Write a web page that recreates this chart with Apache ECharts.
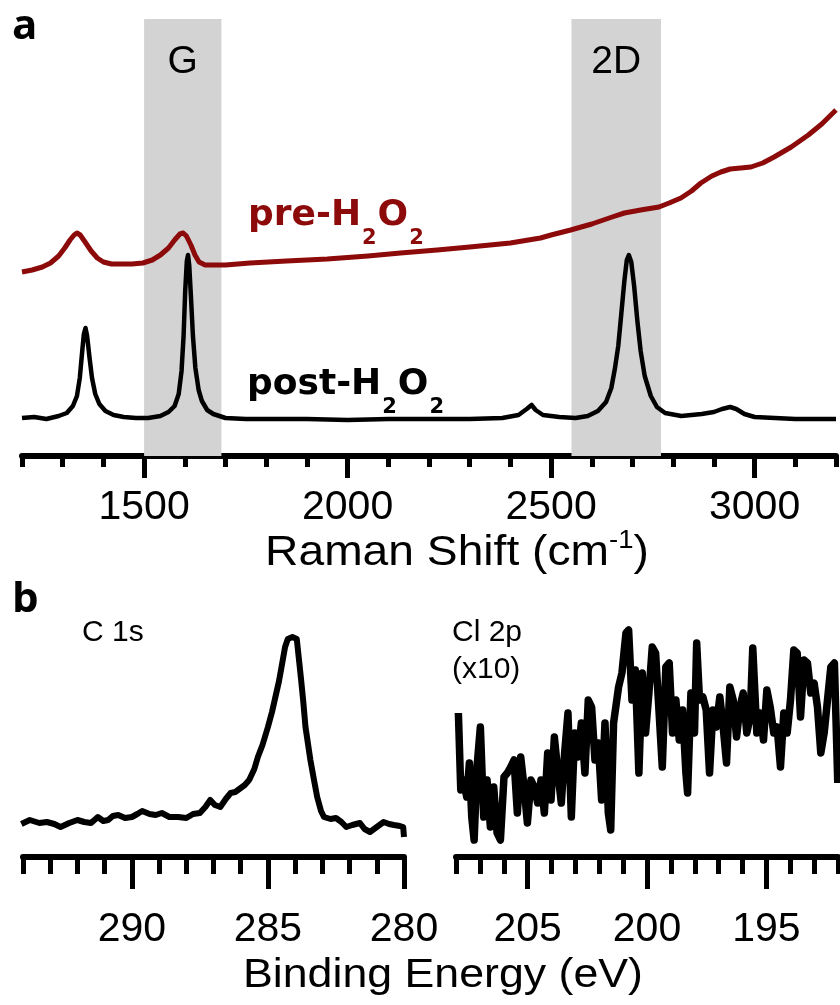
<!DOCTYPE html>
<html>
<head>
<meta charset="utf-8">
<script src="https://cdn.jsdelivr.net/npm/echarts@6/dist/echarts.min.js"></script>
<style>
  html, body { margin: 0; padding: 0; background: #fff; }
  #chart { width: 840px; height: 1005px; }
</style>
</head>
<body>
<div id="chart"></div>
<script>
// Raman spectra (cm-1, a.u.)
const preH2O2 = [
  [1200, 184], [1225, 186], [1250, 189], [1270, 193], [1290, 200], [1305, 208], [1318, 216],
  [1328, 221], [1335, 223], [1343, 221], [1355, 214], [1370, 205], [1385, 198], [1400, 194],
  [1420, 192], [1445, 192], [1470, 192], [1497, 193], [1520, 196], [1540, 201], [1560, 208],
  [1575, 216], [1588, 222], [1596, 223], [1604, 220], [1615, 211], [1625, 201], [1635, 194],
  [1650, 191], [1700, 191], [1760, 193], [1850, 195], [1950, 197], [2050, 200], [2130, 203],
  [2220, 206], [2300, 209], [2400, 213], [2474, 218], [2500, 221], [2548, 226], [2600, 232],
  [2650, 239], [2680, 243], [2720, 246], [2765, 249], [2790, 253], [2819, 258], [2845, 265],
  [2868, 273], [2895, 280], [2917, 284], [2940, 287], [2966, 288], [2991, 289], [3020, 293],
  [3048, 299], [3090, 309], [3132, 321], [3165, 332], [3200, 346]
]
const postH2O2 = [
  [1200, 38], [1230, 39], [1260, 37], [1290, 40], [1310, 43], [1325, 50], [1335, 60],
  [1342, 78], [1348, 105], [1352, 122], [1356, 128], [1360, 120], [1366, 98], [1372, 78],
  [1380, 62], [1390, 52], [1405, 45], [1425, 41], [1450, 39], [1480, 38], [1510, 38],
  [1540, 40], [1560, 44], [1575, 50], [1585, 62], [1592, 85], [1597, 120], [1601, 165],
  [1605, 195], [1608, 201], [1611, 190], [1615, 160], [1620, 120], [1626, 88], [1634, 66],
  [1642, 55], [1655, 46], [1670, 42], [1700, 38], [1750, 37], [1800, 37], [1900, 37],
  [2000, 36], [2100, 37], [2200, 37], [2300, 37], [2380, 38], [2420, 41], [2440, 47],
  [2452, 51], [2462, 46], [2480, 41], [2520, 39], [2560, 38], [2590, 40], [2615, 45],
  [2635, 54], [2648, 68], [2657, 88], [2665, 110], [2672, 140], [2680, 175], [2686, 196],
  [2691, 201], [2697, 194], [2704, 170], [2712, 135], [2720, 105], [2730, 80], [2745, 60],
  [2760, 49], [2780, 43], [2820, 40], [2870, 42], [2900, 44], [2920, 47], [2940, 49],
  [2955, 47], [2975, 42], [3000, 39], [3050, 38], [3100, 37], [3150, 37], [3200, 37]
]
const ramanBands = [['G', 1500, 1690], ['2D', 2550, 2770]]
const ramanTicks = [1500, 2000, 2500, 3000]

// XPS spectra (eV, counts a.u.)
const c1s = [
  [294.06, 33], [293.75, 37], [293.4, 34], [293.12, 35], [292.85, 33], [292.62, 30], [292.3, 34],
  [292.0, 37], [291.75, 35], [291.5, 34], [291.25, 40], [291.05, 36], [290.87, 37], [290.7, 41],
  [290.5, 42], [290.25, 39], [290.0, 40], [289.8, 43], [289.62, 46], [289.35, 43], [289.12, 42],
  [288.9, 44], [288.62, 40], [288.3, 40], [288.0, 39], [287.75, 43], [287.5, 44], [287.3, 50],
  [287.12, 57], [286.95, 52], [286.75, 50], [286.55, 58], [286.37, 64], [286.2, 65], [286.0, 69],
  [285.85, 72], [285.69, 77], [285.5, 88], [285.37, 100], [285.2, 112], [285.0, 130], [284.85, 145],
  [284.75, 157], [284.6, 175], [284.5, 190], [284.37, 210], [284.27, 218], [284.1, 220], [283.94, 218],
  [283.85, 195], [283.78, 177], [283.7, 155], [283.62, 130], [283.5, 108], [283.44, 97], [283.3, 76],
  [283.19, 60], [283.05, 46], [282.94, 40], [282.7, 38], [282.5, 39], [282.3, 35], [282.12, 30],
  [281.9, 32], [281.62, 34], [281.45, 28], [281.25, 25], [281.0, 30], [280.75, 35], [280.55, 33],
  [280.37, 32], [280.15, 31], [280.03, 30], [280.0, 20]
]
const cl2p = [
  [207.9, 144], [207.8, 67], [207.69, 77], [207.55, 60], [207.44, 94], [207.34, 40], [207.24, 17],
  [207.12, 90], [206.98, 130], [206.84, 40], [206.7, 77], [206.56, 30], [206.42, 70], [206.28, 24],
  [206.14, 17], [205.99, 80], [205.85, 84], [205.71, 90], [205.57, 97], [205.43, 44], [205.29, 100],
  [205.15, 70], [205.01, 34], [204.86, 77], [204.72, 70], [204.58, 54], [204.44, 77], [204.3, 44],
  [204.16, 104], [204.02, 57], [203.88, 120], [203.73, 84], [203.59, 54], [203.45, 104], [203.31, 144],
  [203.17, 40], [203.03, 124], [202.89, 100], [202.75, 134], [202.6, 84], [202.46, 157], [202.32, 150],
  [202.18, 97], [202.04, 114], [201.9, 57], [201.76, 134], [201.62, 44], [201.52, 27], [201.4, 134],
  [201.19, 170], [201.05, 184], [200.88, 224], [200.77, 227], [200.63, 157], [200.49, 187], [200.34, 84],
  [200.2, 184], [200.06, 124], [199.92, 164], [199.78, 210], [199.64, 204], [199.5, 147], [199.36, 90],
  [199.21, 190], [199.07, 194], [198.93, 124], [198.79, 157], [198.65, 117], [198.51, 147], [198.37, 84],
  [198.3, 64], [198.16, 164], [198.01, 124], [197.92, 214], [197.8, 157], [197.66, 160], [197.52, 147],
  [197.38, 84], [197.24, 147], [197.1, 130], [196.95, 160], [196.81, 130], [196.67, 94], [196.53, 170],
  [196.39, 157], [196.25, 120], [196.11, 150], [195.97, 164], [195.82, 124], [195.68, 140], [195.57, 209],
  [195.4, 124], [195.26, 144], [195.12, 117], [194.98, 167], [194.84, 150], [194.69, 124], [194.55, 130],
  [194.41, 90], [194.27, 144], [194.13, 124], [193.99, 157], [193.85, 207], [193.71, 204], [193.57, 140],
  [193.42, 197], [193.28, 194], [193.14, 164], [193.0, 174], [192.86, 150], [192.72, 104], [192.58, 124],
  [192.44, 157], [192.3, 190], [192.15, 194], [192.01, 74]
]
const c1sTicks = [280, 285, 290]
const cl2pTicks = [195, 200, 205]

const darkRed = '#8c0a0a'
const labelFont = 'Liberation Sans, Arial, sans-serif'

const myChart = echarts.init(document.getElementById('chart'))

// two axes per grid: one for the small ticks + line, one for long ticks + labels
function axisPair(gridIndex, min, max, step, majors, inverse, minorLen, majorLen, margin) {
  const base = {
    type: 'value',
    gridIndex: gridIndex,
    min: min,
    max: max,
    interval: step,
    inverse: inverse,
    position: 'bottom',
    splitLine: { show: false }
  }
  return [
    Object.assign({}, base, {
      axisLine: { show: true, onZero: false, lineStyle: { color: '#000', width: 6 } },
      axisTick: { show: true, length: minorLen, lineStyle: { color: '#000', width: 5 } },
      axisLabel: { show: false }
    }),
    Object.assign({}, base, {
      axisLine: { show: false, onZero: false },
      axisTick: { show: true, length: majorLen, customValues: majors, lineStyle: { color: '#000', width: 5 } },
      axisLabel: {
        show: true, customValues: majors, margin: margin,
        formatter: v => String(v),
        fontSize: 41, fontFamily: labelFont, color: '#000'
      }
    })
  ]
}

function hiddenY(gridIndex, max) {
  return { type: 'value', gridIndex: gridIndex, min: 0, max: max, show: false, splitLine: { show: false } }
}

function lineSeries(data, xi, yi, color, width) {
  return {
    type: 'line',
    data: data,
    xAxisIndex: xi,
    yAxisIndex: yi,
    showSymbol: false,
    smooth: false,
    lineStyle: { color: color, width: width, join: 'round' },
    z: 3
  }
}

const subRich = function (color) {
  return {
    m: { fontSize: 36, fontWeight: 'bold', fontFamily: 'DejaVu Sans', lineHeight: 36, verticalAlign: 'top', fill: color },
    s: { fontSize: 21, fontWeight: 'bold', fontFamily: 'DejaVu Sans', lineHeight: 21, padding: [30, 1, 0, 1], verticalAlign: 'top', fill: color }
  }
}

const option = {
  animation: false,
  backgroundColor: '#fff',
  grid: [
    { left: 22, top: 19, width: 814, height: 437 },
    { left: 23, top: 620, width: 381, height: 237 },
    { left: 456, top: 620, width: 382, height: 237 }
  ],
  xAxis: [].concat(
    axisPair(0, 1200, 3200, 100, ramanTicks, false, 11, 22, 31),
    axisPair(1, 280, 294, 1, c1sTicks, true, 17, 32, 52),
    axisPair(2, 192, 208, 1, cl2pTicks, true, 17, 32, 52)
  ),
  yAxis: [hiddenY(0, 437), hiddenY(1, 237), hiddenY(2, 237)],
  series: [
    {
      type: 'line',
      data: [],
      xAxisIndex: 0,
      yAxisIndex: 0,
      z: 1,
      markArea: {
        silent: true,
        itemStyle: { color: '#d3d3d3' },
        label: {
          show: true, position: 'insideTop', distance: 24,
          fontSize: 39, fontFamily: labelFont, color: '#000'
        },
        data: ramanBands.map(b => [{ name: b[0], xAxis: b[1] }, { xAxis: b[2] }])
      }
    },
    lineSeries(preH2O2, 0, 0, darkRed, 5),
    lineSeries(postH2O2, 0, 0, '#000', 4.5),
    lineSeries(c1s, 2, 1, '#000', 6),
    lineSeries(cl2p, 4, 2, '#000', 7.5)
  ],
  graphic: [
    { type: 'text', x: 12, y: 6, style: { text: 'a', font: 'bold 42px "Open Sans"', fill: '#000' } },
    { type: 'text', x: 12, y: 579, style: { text: 'b', font: 'bold 42px "Open Sans"', fill: '#000' } },
    {
      type: 'text', x: 248, y: 198,
      style: { text: '{m|pre-H}{s|2}{m|O}{s|2}', rich: subRich(darkRed) }
    },
    {
      type: 'text', x: 247, y: 367,
      style: { text: '{m|post-H}{s|2}{m|O}{s|2}', rich: subRich('#000') }
    },
    {
      type: 'text', x: 457, y: 553, scaleX: 1.1,
      style: {
        text: '{m|Raman Shift (cm}{u|-1}{m|)}',
        align: 'center', verticalAlign: 'middle',
        rich: {
          m: { fontSize: 42, fontFamily: labelFont, lineHeight: 48, fill: '#000' },
          u: { fontSize: 25, fontFamily: labelFont, lineHeight: 25, verticalAlign: 'top', fill: '#000' }
        }
      }
    },
    {
      type: 'text', x: 443, y: 976, scaleX: 1.09,
      style: { text: 'Binding Energy (eV)', font: '41px ' + labelFont, fill: '#000', align: 'center', verticalAlign: 'middle' }
    },
    { type: 'text', x: 82, y: 633, style: { text: 'C 1s', font: '30px ' + labelFont, fill: '#000', verticalAlign: 'middle' } },
    { type: 'text', x: 452, y: 633, style: { text: 'Cl 2p', font: '30px ' + labelFont, fill: '#000', verticalAlign: 'middle' } },
    { type: 'text', x: 452, y: 670, style: { text: '(x10)', font: '30px ' + labelFont, fill: '#000', verticalAlign: 'middle' } }
  ]
}

myChart.setOption(option)
</script>
</body>
</html>
